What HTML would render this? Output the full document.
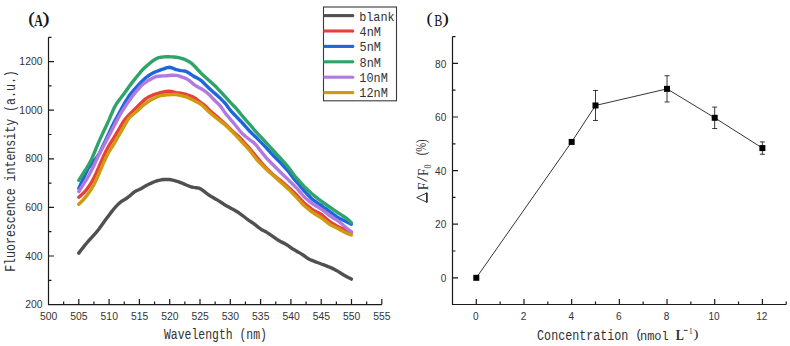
<!DOCTYPE html><html><head><meta charset="utf-8"><style>html,body{margin:0;padding:0;background:#fff;width:790px;height:346px;overflow:hidden}svg{display:block}</style></head><body>
<svg width="790" height="346" viewBox="0 0 790 346">
<rect width="790" height="346" fill="#fff"/>
<path d="M48.5,37.30V304.6H381.80M48.5,280.30h3M48.5,256.00h5.5M48.5,231.70h3M48.5,207.40h5.5M48.5,183.10h3M48.5,158.80h5.5M48.5,134.50h3M48.5,110.20h5.5M48.5,85.90h3M48.5,61.60h5.5M48.5,37.30h3M63.65,304.6v-3M78.80,304.6v-5.5M93.95,304.6v-3M109.10,304.6v-5.5M124.25,304.6v-3M139.40,304.6v-5.5M154.55,304.6v-3M169.70,304.6v-5.5M184.85,304.6v-3M200.00,304.6v-5.5M215.15,304.6v-3M230.30,304.6v-5.5M245.45,304.6v-3M260.60,304.6v-5.5M275.75,304.6v-3M290.90,304.6v-5.5M306.05,304.6v-3M321.20,304.6v-5.5M336.35,304.6v-3M351.50,304.6v-5.5M366.65,304.6v-3M381.80,304.6v-5.5" fill="none" stroke="#1a1a1a" stroke-width="1.2"/>
<text transform="translate(25.18,308.20) scale(0.9320,1)" font-family="Liberation Sans" font-weight="normal" font-size="11.143" fill="#333">200</text>
<text transform="translate(25.18,259.60) scale(0.9320,1)" font-family="Liberation Sans" font-weight="normal" font-size="11.143" fill="#333">400</text>
<text transform="translate(25.18,211.00) scale(0.9320,1)" font-family="Liberation Sans" font-weight="normal" font-size="11.143" fill="#333">600</text>
<text transform="translate(25.18,162.40) scale(0.9320,1)" font-family="Liberation Sans" font-weight="normal" font-size="11.143" fill="#333">800</text>
<text transform="translate(19.36,113.80) scale(0.9320,1)" font-family="Liberation Sans" font-weight="normal" font-size="11.143" fill="#333">1000</text>
<text transform="translate(19.36,65.20) scale(0.9320,1)" font-family="Liberation Sans" font-weight="normal" font-size="11.143" fill="#333">1200</text>
<text transform="translate(39.98,320.00) scale(0.9320,1)" font-family="Liberation Sans" font-weight="normal" font-size="11.143" fill="#333">500</text>
<text transform="translate(70.28,320.00) scale(0.9320,1)" font-family="Liberation Sans" font-weight="normal" font-size="11.143" fill="#333">505</text>
<text transform="translate(100.58,320.00) scale(0.9320,1)" font-family="Liberation Sans" font-weight="normal" font-size="11.143" fill="#333">510</text>
<text transform="translate(130.88,320.00) scale(0.9320,1)" font-family="Liberation Sans" font-weight="normal" font-size="11.143" fill="#333">515</text>
<text transform="translate(161.18,320.00) scale(0.9320,1)" font-family="Liberation Sans" font-weight="normal" font-size="11.143" fill="#333">520</text>
<text transform="translate(191.48,320.00) scale(0.9320,1)" font-family="Liberation Sans" font-weight="normal" font-size="11.143" fill="#333">525</text>
<text transform="translate(221.78,320.00) scale(0.9320,1)" font-family="Liberation Sans" font-weight="normal" font-size="11.143" fill="#333">530</text>
<text transform="translate(252.08,320.00) scale(0.9320,1)" font-family="Liberation Sans" font-weight="normal" font-size="11.143" fill="#333">535</text>
<text transform="translate(282.38,320.00) scale(0.9320,1)" font-family="Liberation Sans" font-weight="normal" font-size="11.143" fill="#333">540</text>
<text transform="translate(312.68,320.00) scale(0.9320,1)" font-family="Liberation Sans" font-weight="normal" font-size="11.143" fill="#333">545</text>
<text transform="translate(342.98,320.00) scale(0.9320,1)" font-family="Liberation Sans" font-weight="normal" font-size="11.143" fill="#333">550</text>
<text transform="translate(373.28,320.00) scale(0.9320,1)" font-family="Liberation Sans" font-weight="normal" font-size="11.143" fill="#333">555</text>
<path d="M452.5,36.60V304.5H786.22M452.5,277.80h5.5M452.5,251.00h3M452.5,224.20h5.5M452.5,197.40h3M452.5,170.60h5.5M452.5,143.80h3M452.5,117.00h5.5M452.5,90.20h3M452.5,63.40h5.5M452.5,36.60h3M476.30,304.5v-5.5M500.14,304.5v-3M523.98,304.5v-5.5M547.82,304.5v-3M571.66,304.5v-5.5M595.50,304.5v-3M619.34,304.5v-5.5M643.18,304.5v-3M667.02,304.5v-5.5M690.86,304.5v-3M714.70,304.5v-5.5M738.54,304.5v-3M762.38,304.5v-5.5M786.22,304.5v-3" fill="none" stroke="#1a1a1a" stroke-width="1.2"/>
<text transform="translate(440.76,282.00) scale(0.9040,1)" font-family="Liberation Sans" font-weight="normal" font-size="11.143" fill="#333">0</text>
<text transform="translate(435.12,228.40) scale(0.9040,1)" font-family="Liberation Sans" font-weight="normal" font-size="11.143" fill="#333">20</text>
<text transform="translate(435.12,174.80) scale(0.9040,1)" font-family="Liberation Sans" font-weight="normal" font-size="11.143" fill="#333">40</text>
<text transform="translate(435.12,121.20) scale(0.9040,1)" font-family="Liberation Sans" font-weight="normal" font-size="11.143" fill="#333">60</text>
<text transform="translate(435.12,67.60) scale(0.9040,1)" font-family="Liberation Sans" font-weight="normal" font-size="11.143" fill="#333">80</text>
<text transform="translate(473.08,320.10) scale(0.9040,1)" font-family="Liberation Sans" font-weight="normal" font-size="11.143" fill="#333">0</text>
<text transform="translate(520.76,320.10) scale(0.9040,1)" font-family="Liberation Sans" font-weight="normal" font-size="11.143" fill="#333">2</text>
<text transform="translate(568.54,320.10) scale(0.9040,1)" font-family="Liberation Sans" font-weight="normal" font-size="11.143" fill="#333">4</text>
<text transform="translate(616.02,320.10) scale(0.9040,1)" font-family="Liberation Sans" font-weight="normal" font-size="11.143" fill="#333">6</text>
<text transform="translate(663.80,320.10) scale(0.9040,1)" font-family="Liberation Sans" font-weight="normal" font-size="11.143" fill="#333">8</text>
<text transform="translate(708.46,320.10) scale(0.9040,1)" font-family="Liberation Sans" font-weight="normal" font-size="11.143" fill="#333">10</text>
<text transform="translate(756.24,320.10) scale(0.9040,1)" font-family="Liberation Sans" font-weight="normal" font-size="11.143" fill="#333">12</text>
<text transform="translate(164.00,338.60) scale(0.8038,1)" font-family="Liberation Mono" font-weight="normal" font-size="14.242" fill="#303030">Wavelength (nm)</text>
<text transform="rotate(-90) translate(-271.86,15.20) scale(0.7811,1)" font-family="Liberation Mono" font-weight="normal" font-size="14.848" fill="#303030">Fluorescence intensity (a.u.)</text>
<text transform="translate(537.10,339.80) scale(0.8222,1)" font-family="Liberation Mono" font-weight="normal" font-size="14.242" fill="#303030">Concentration</text>
<text transform="translate(635.13,338.35) scale(0.9281,1)" font-family="Liberation Mono" font-weight="normal" font-size="13.261" fill="#303030">(</text>
<text transform="translate(639.94,339.70) scale(0.9523,1)" font-family="Liberation Mono" font-weight="normal" font-size="12.639" fill="#303030">nmol</text>
<text transform="translate(675.76,339.70) scale(0.8922,1)" font-family="Liberation Serif" font-weight="bold" font-size="13.636" fill="#303030">L</text>
<path d="M683.8,330.4H687.6" stroke="#222" stroke-width="0.9"/>
<text transform="translate(689.02,333.60) scale(0.9167,1)" font-family="Liberation Serif" font-weight="normal" font-size="7.879" fill="#303030">1</text>
<text transform="translate(693.37,338.32) scale(1.2284,1)" font-family="Liberation Serif" font-weight="normal" font-size="12.889" fill="#303030">)</text>
<text transform="translate(28.48,24.09) scale(1.0919,1)" font-family="Liberation Serif" font-weight="normal" font-size="16.556" fill="#111" stroke="#111" stroke-width="0.4">(</text>
<text transform="translate(34.30,25.50) scale(0.7020,1)" font-family="Liberation Serif" font-weight="bold" font-size="16.818" fill="#111">A</text>
<text transform="translate(42.58,24.09) scale(1.2332,1)" font-family="Liberation Serif" font-weight="normal" font-size="16.556" fill="#111" stroke="#111" stroke-width="0.4">)</text>
<text transform="translate(426.45,24.09) scale(1.1384,1)" font-family="Liberation Serif" font-weight="normal" font-size="16.556" fill="#111">(</text>
<text transform="translate(434.26,25.50) scale(0.7648,1)" font-family="Liberation Serif" font-weight="normal" font-size="15.909" fill="#111">B</text>
<text transform="translate(441.73,24.09) scale(1.3087,1)" font-family="Liberation Serif" font-weight="normal" font-size="16.556" fill="#111">)</text>
<path d="M427,192.9L416.7,197.6L427,202.3Z" fill="none" stroke="#222" stroke-width="0.9" stroke-linejoin="miter"/>
<path d="M426.8,192.7V202.5" stroke="#222" stroke-width="1.3"/>
<text transform="rotate(-90) translate(-190.28,427.70) scale(0.9830,1)" font-family="Liberation Serif" font-weight="normal" font-size="14.242" fill="#333">F</text>
<text transform="rotate(-90) translate(-182.10,426.91) scale(1.4473,1)" font-family="Liberation Serif" font-weight="normal" font-size="14.559" fill="#333">/</text>
<text transform="rotate(-90) translate(-175.96,427.70) scale(0.8987,1)" font-family="Liberation Serif" font-weight="normal" font-size="14.242" fill="#333">F</text>
<text transform="rotate(-90) translate(-168.62,431.10) scale(0.7743,1)" font-family="Liberation Serif" font-weight="normal" font-size="10.455" fill="#303030">0</text>
<text transform="rotate(-90) translate(-155.33,426.07) scale(0.7250,1)" font-family="Liberation Serif" font-weight="normal" font-size="14.667" fill="#303030">(%)</text>
<path d="M78.8,253.1 L81.3,249.8 L83.8,246.6 L86.3,243.5 L88.8,240.6 L91.3,237.8 L93.8,235.1 L96.3,232.3 L98.8,229.2 L101.3,225.7 L103.8,222.2 L106.3,218.8 L108.8,215.4 L111.3,212.1 L113.8,209.0 L116.3,206.1 L118.8,203.6 L121.3,201.5 L123.8,200.0 L126.3,198.5 L128.8,196.7 L131.3,194.5 L133.8,192.4 L136.3,190.8 L138.8,189.7 L141.3,188.4 L143.8,187.0 L146.3,185.6 L148.8,184.3 L151.3,183.1 L153.8,182.0 L156.3,181.0 L158.8,180.3 L161.3,179.8 L163.8,179.5 L166.3,179.4 L168.8,179.5 L171.3,179.8 L173.8,180.4 L176.3,181.1 L178.8,181.8 L181.3,182.8 L183.8,183.9 L186.3,185.0 L188.8,186.0 L191.3,187.0 L193.8,187.4 L196.3,187.7 L198.8,188.1 L201.3,189.3 L203.8,191.2 L206.3,193.1 L208.8,195.0 L211.3,196.6 L213.8,198.0 L216.3,199.4 L218.8,200.9 L221.3,202.5 L223.8,204.2 L226.3,205.7 L228.8,207.1 L231.3,208.5 L233.8,209.8 L236.3,211.2 L238.8,212.8 L241.3,214.6 L243.8,216.5 L246.3,218.5 L248.8,220.4 L251.3,222.0 L253.8,223.7 L256.3,225.7 L258.8,227.7 L261.3,229.4 L263.8,230.8 L266.3,232.1 L268.8,233.6 L271.3,235.3 L273.8,237.1 L276.3,238.9 L278.8,240.5 L281.3,241.9 L283.8,243.1 L286.3,244.5 L288.8,246.2 L291.3,248.0 L293.8,249.6 L296.3,251.0 L298.8,252.4 L301.3,253.9 L303.8,255.5 L306.3,257.3 L308.8,259.0 L311.3,260.2 L313.8,261.1 L316.3,262.1 L318.8,263.0 L321.3,264.0 L323.8,264.9 L326.3,265.8 L328.8,266.8 L331.3,267.9 L333.8,269.1 L336.3,270.4 L338.8,271.9 L341.3,273.5 L343.8,275.0 L346.3,276.4 L348.8,277.8 L351.3,279.1" fill="none" stroke="#505050" stroke-width="3.4" stroke-linejoin="round" stroke-linecap="round"/>
<path d="M78.8,197.2 L81.3,195.1 L83.8,192.8 L86.3,190.0 L88.8,186.6 L91.3,182.7 L93.8,178.1 L96.3,172.9 L98.8,167.3 L101.3,161.5 L103.8,155.8 L106.3,150.5 L108.8,145.9 L111.3,141.8 L113.8,137.8 L116.3,133.7 L118.8,129.5 L121.3,125.2 L123.8,121.1 L126.3,117.9 L128.8,115.2 L131.3,112.6 L133.8,110.1 L136.3,107.7 L138.8,105.2 L141.3,102.8 L143.8,100.4 L146.3,98.4 L148.8,96.9 L151.3,95.7 L153.8,94.6 L156.3,93.8 L158.8,93.1 L161.3,92.5 L163.8,92.0 L166.3,91.5 L168.8,91.1 L171.3,91.5 L173.8,92.1 L176.3,92.7 L178.8,93.0 L181.3,93.3 L183.8,93.8 L186.3,94.5 L188.8,95.4 L191.3,96.3 L193.8,97.4 L196.3,99.0 L198.8,101.0 L201.3,102.9 L203.8,104.7 L206.3,106.9 L208.8,109.6 L211.3,111.9 L213.8,114.0 L216.3,116.1 L218.8,118.3 L221.3,120.5 L223.8,122.8 L226.3,125.0 L228.8,127.5 L231.3,129.9 L233.8,132.4 L236.3,134.5 L238.8,136.6 L241.3,139.1 L243.8,142.0 L246.3,144.8 L248.8,147.5 L251.3,150.5 L253.8,153.5 L256.3,156.5 L258.8,159.5 L261.3,162.5 L263.8,165.5 L266.3,168.3 L268.8,170.6 L271.3,172.9 L273.8,175.2 L276.3,177.3 L278.8,179.3 L281.3,181.2 L283.8,183.3 L286.3,185.5 L288.8,187.7 L291.3,189.9 L293.8,192.2 L296.3,194.7 L298.8,197.4 L301.3,200.1 L303.8,202.7 L306.3,204.8 L308.8,206.8 L311.3,208.9 L313.8,210.4 L316.3,211.7 L318.8,212.9 L321.3,214.4 L323.8,216.5 L326.3,218.7 L328.8,221.0 L331.3,222.7 L333.8,224.2 L336.3,225.7 L338.8,227.1 L341.3,228.2 L343.8,229.2 L346.3,230.3 L348.8,231.4 L351.3,232.6" fill="none" stroke="#e8403a" stroke-width="3.4" stroke-linejoin="round" stroke-linecap="round"/>
<path d="M78.8,188.4 L81.3,183.0 L83.8,177.6 L86.3,172.2 L88.8,167.3 L91.3,164.3 L93.8,161.1 L96.3,158.0 L98.8,154.5 L101.3,149.3 L103.8,144.1 L106.3,138.8 L108.8,133.4 L111.3,128.1 L113.8,123.1 L116.3,118.3 L118.8,113.7 L121.3,109.2 L123.8,104.7 L126.3,100.3 L128.8,96.4 L131.3,93.1 L133.8,90.2 L136.3,87.4 L138.8,84.6 L141.3,82.0 L143.8,79.6 L146.3,77.3 L148.8,75.5 L151.3,73.9 L153.8,72.6 L156.3,71.5 L158.8,70.6 L161.3,69.7 L163.8,68.8 L166.3,67.9 L168.8,67.3 L171.3,67.7 L173.8,68.6 L176.3,69.7 L178.8,70.2 L181.3,70.6 L183.8,70.9 L186.3,71.5 L188.8,72.9 L191.3,74.7 L193.8,76.4 L196.3,77.6 L198.8,78.9 L201.3,80.6 L203.8,83.0 L206.3,85.6 L208.8,88.0 L211.3,90.3 L213.8,92.5 L216.3,94.6 L218.8,96.9 L221.3,99.4 L223.8,101.9 L226.3,104.7 L228.8,108.2 L231.3,111.4 L233.8,114.0 L236.3,116.6 L238.8,119.2 L241.3,121.8 L243.8,124.5 L246.3,127.3 L248.8,130.2 L251.3,132.8 L253.8,135.2 L256.3,137.6 L258.8,140.1 L261.3,142.6 L263.8,145.1 L266.3,147.8 L268.8,150.6 L271.3,153.3 L273.8,156.0 L276.3,158.5 L278.8,161.0 L281.3,163.5 L283.8,166.3 L286.3,169.1 L288.8,171.9 L291.3,175.2 L293.8,178.7 L296.3,181.6 L298.8,184.4 L301.3,187.4 L303.8,190.5 L306.3,193.2 L308.8,195.7 L311.3,198.3 L313.8,200.3 L316.3,202.1 L318.8,203.8 L321.3,205.5 L323.8,207.3 L326.3,209.0 L328.8,210.8 L331.3,212.6 L333.8,214.5 L336.3,216.4 L338.8,218.1 L341.3,219.3 L343.8,220.5 L346.3,221.7 L348.8,222.9 L351.3,224.2" fill="none" stroke="#1d66dc" stroke-width="3.4" stroke-linejoin="round" stroke-linecap="round"/>
<path d="M78.8,180.3 L81.3,176.4 L83.8,172.5 L86.3,168.7 L88.8,164.6 L91.3,159.8 L93.8,154.0 L96.3,147.8 L98.8,141.9 L101.3,136.4 L103.8,131.1 L106.3,125.8 L108.8,120.4 L111.3,114.4 L113.8,108.6 L116.3,104.0 L118.8,100.5 L121.3,97.3 L123.8,93.9 L126.3,90.4 L128.8,86.9 L131.3,83.6 L133.8,80.4 L136.3,77.3 L138.8,74.2 L141.3,71.2 L143.8,68.5 L146.3,66.2 L148.8,64.0 L151.3,62.0 L153.8,60.2 L156.3,58.6 L158.8,57.7 L161.3,57.2 L163.8,56.9 L166.3,56.8 L168.8,56.8 L171.3,56.9 L173.8,57.0 L176.3,57.2 L178.8,57.6 L181.3,58.3 L183.8,59.0 L186.3,60.2 L188.8,61.5 L191.3,63.1 L193.8,65.4 L196.3,68.0 L198.8,70.8 L201.3,73.4 L203.8,75.8 L206.3,78.1 L208.8,80.3 L211.3,82.5 L213.8,84.7 L216.3,87.1 L218.8,89.8 L221.3,92.5 L223.8,95.2 L226.3,97.9 L228.8,100.6 L231.3,103.3 L233.8,106.0 L236.3,108.7 L238.8,111.6 L241.3,114.7 L243.8,117.7 L246.3,120.7 L248.8,123.4 L251.3,126.2 L253.8,129.3 L256.3,132.1 L258.8,134.8 L261.3,137.4 L263.8,140.1 L266.3,142.9 L268.8,145.6 L271.3,148.3 L273.8,151.0 L276.3,153.8 L278.8,156.5 L281.3,159.2 L283.8,162.0 L286.3,164.8 L288.8,167.8 L291.3,171.3 L293.8,174.8 L296.3,177.8 L298.8,180.4 L301.3,183.3 L303.8,186.2 L306.3,188.6 L308.8,190.9 L311.3,193.2 L313.8,195.3 L316.3,197.3 L318.8,199.3 L321.3,201.2 L323.8,203.0 L326.3,204.7 L328.8,206.5 L331.3,208.2 L333.8,209.9 L336.3,211.6 L338.8,213.3 L341.3,214.9 L343.8,216.5 L346.3,218.1 L348.8,220.2 L351.3,222.7" fill="none" stroke="#2ea46a" stroke-width="3.4" stroke-linejoin="round" stroke-linecap="round"/>
<path d="M78.8,191.5 L81.3,187.6 L83.8,183.7 L86.3,179.8 L88.8,175.5 L91.3,170.8 L93.8,165.7 L96.3,160.3 L98.8,154.9 L101.3,150.0 L103.8,145.5 L106.3,140.9 L108.8,136.1 L111.3,131.3 L113.8,126.4 L116.3,121.6 L118.8,117.0 L121.3,112.7 L123.8,108.7 L126.3,104.9 L128.8,101.3 L131.3,97.8 L133.8,94.3 L136.3,91.3 L138.8,88.5 L141.3,85.7 L143.8,83.5 L146.3,81.8 L148.8,80.3 L151.3,78.9 L153.8,77.6 L156.3,76.5 L158.8,76.2 L161.3,76.0 L163.8,75.9 L166.3,75.8 L168.8,75.5 L171.3,75.3 L173.8,75.2 L176.3,75.4 L178.8,75.9 L181.3,76.8 L183.8,77.7 L186.3,78.6 L188.8,80.1 L191.3,82.2 L193.8,84.4 L196.3,86.1 L198.8,87.5 L201.3,88.8 L203.8,90.4 L206.3,92.2 L208.8,94.3 L211.3,96.8 L213.8,99.5 L216.3,101.9 L218.8,104.3 L221.3,107.2 L223.8,110.9 L226.3,114.4 L228.8,117.3 L231.3,120.3 L233.8,123.2 L236.3,126.3 L238.8,129.5 L241.3,132.5 L243.8,134.9 L246.3,137.0 L248.8,139.0 L251.3,140.8 L253.8,142.7 L256.3,145.2 L258.8,148.6 L261.3,151.8 L263.8,154.9 L266.3,157.9 L268.8,160.5 L271.3,163.0 L273.8,165.5 L276.3,168.0 L278.8,170.5 L281.3,173.0 L283.8,175.5 L286.3,177.8 L288.8,180.2 L291.3,182.7 L293.8,185.3 L296.3,187.7 L298.8,190.4 L301.3,193.5 L303.8,196.5 L306.3,198.7 L308.8,200.8 L311.3,202.8 L313.8,204.5 L316.3,206.0 L318.8,207.5 L321.3,209.1 L323.8,211.0 L326.3,213.0 L328.8,215.0 L331.3,216.7 L333.8,218.2 L336.3,219.7 L338.8,221.4 L341.3,223.5 L343.8,225.7 L346.3,227.8 L348.8,229.8 L351.3,231.6" fill="none" stroke="#b07ae0" stroke-width="3.4" stroke-linejoin="round" stroke-linecap="round"/>
<path d="M78.8,204.3 L81.3,201.8 L83.8,199.2 L86.3,196.2 L88.8,192.8 L91.3,189.1 L93.8,184.8 L96.3,179.7 L98.8,174.0 L101.3,168.0 L103.8,162.2 L106.3,156.9 L108.8,152.2 L111.3,148.2 L113.8,144.2 L116.3,139.9 L118.8,135.5 L121.3,131.1 L123.8,126.7 L126.3,122.3 L128.8,118.4 L131.3,115.9 L133.8,113.8 L136.3,111.7 L138.8,109.4 L141.3,107.0 L143.8,104.8 L146.3,103.0 L148.8,101.2 L151.3,99.7 L153.8,98.5 L156.3,97.3 L158.8,96.2 L161.3,95.7 L163.8,95.2 L166.3,94.8 L168.8,94.8 L171.3,94.6 L173.8,94.4 L176.3,94.5 L178.8,95.1 L181.3,95.7 L183.8,96.3 L186.3,96.9 L188.8,97.9 L191.3,99.2 L193.8,100.5 L196.3,101.8 L198.8,103.1 L201.3,104.5 L203.8,106.7 L206.3,109.3 L208.8,111.7 L211.3,113.8 L213.8,115.8 L216.3,117.8 L218.8,119.8 L221.3,121.8 L223.8,123.8 L226.3,125.9 L228.8,128.3 L231.3,130.8 L233.8,133.3 L236.3,135.9 L238.8,138.5 L241.3,141.3 L243.8,144.0 L246.3,146.6 L248.8,149.4 L251.3,152.5 L253.8,155.7 L256.3,159.0 L258.8,161.8 L261.3,164.3 L263.8,166.8 L266.3,169.2 L268.8,171.5 L271.3,173.8 L273.8,176.0 L276.3,178.2 L278.8,180.5 L281.3,182.7 L283.8,184.9 L286.3,187.1 L288.8,189.4 L291.3,191.9 L293.8,194.5 L296.3,197.2 L298.8,199.9 L301.3,202.7 L303.8,205.3 L306.3,207.4 L308.8,209.4 L311.3,211.5 L313.8,213.2 L316.3,214.7 L318.8,216.2 L321.3,217.8 L323.8,219.7 L326.3,221.7 L328.8,223.7 L331.3,225.2 L333.8,226.5 L336.3,227.7 L338.8,229.0 L341.3,230.4 L343.8,231.7 L346.3,233.0 L348.8,234.1 L351.3,235.0" fill="none" stroke="#d09a10" stroke-width="3.4" stroke-linejoin="round" stroke-linecap="round"/>
<rect x="323.5" y="7" width="73" height="93.8" fill="none" stroke="#3a3a3a" stroke-width="1.1"/>
<path d="M323.5,15.60H352.8" stroke="#505050" stroke-width="3.1"/><circle cx="352.8" cy="15.60" r="1.55" fill="#505050"/>
<text transform="translate(359.15,20.70) scale(0.9378,1)" font-family="Liberation Mono" font-weight="normal" font-size="12.639" fill="#303030">blank</text>
<path d="M323.5,31.00H352.8" stroke="#e8403a" stroke-width="3.1"/><circle cx="352.8" cy="31.00" r="1.55" fill="#e8403a"/>
<text transform="translate(359.59,35.70) scale(0.9378,1)" font-family="Liberation Mono" font-size="12.639" fill="#333">4nM</text>
<path d="M323.5,46.40H352.8" stroke="#1d66dc" stroke-width="3.1"/><circle cx="352.8" cy="46.40" r="1.55" fill="#1d66dc"/>
<text transform="translate(359.59,51.10) scale(0.9378,1)" font-family="Liberation Mono" font-size="12.639" fill="#333">5nM</text>
<path d="M323.5,61.80H352.8" stroke="#2ea46a" stroke-width="3.1"/><circle cx="352.8" cy="61.80" r="1.55" fill="#2ea46a"/>
<text transform="translate(359.59,66.50) scale(0.9378,1)" font-family="Liberation Mono" font-size="12.639" fill="#333">8nM</text>
<path d="M323.5,77.20H352.8" stroke="#b07ae0" stroke-width="3.1"/><circle cx="352.8" cy="77.20" r="1.55" fill="#b07ae0"/>
<text transform="translate(359.35,81.90) scale(0.9378,1)" font-family="Liberation Mono" font-size="12.639" fill="#333">10nM</text>
<path d="M323.5,92.60H352.8" stroke="#d09a10" stroke-width="3.1"/><circle cx="352.8" cy="92.60" r="1.55" fill="#d09a10"/>
<text transform="translate(359.35,97.30) scale(0.9378,1)" font-family="Liberation Mono" font-size="12.639" fill="#333">12nM</text>
<path d="M476.30,277.80 L571.66,141.92 L595.50,105.48 L667.02,88.86 L714.70,117.80 L762.38,148.09" fill="none" stroke="#2a2a2a" stroke-width="0.95"/>
<rect x="473.30" y="274.80" width="6" height="6" fill="#000"/>
<rect x="568.66" y="138.92" width="6" height="6" fill="#000"/>
<path d="M595.50,90.47V120.48M593.00,90.47h5M593.00,120.48h5" stroke="#222" stroke-width="0.9" fill="none"/>
<rect x="592.50" y="102.48" width="6" height="6" fill="#000"/>
<path d="M667.02,75.73V101.99M664.52,75.73h5M664.52,101.99h5" stroke="#222" stroke-width="0.9" fill="none"/>
<rect x="664.02" y="85.86" width="6" height="6" fill="#000"/>
<path d="M714.70,107.08V128.52M712.20,107.08h5M712.20,128.52h5" stroke="#222" stroke-width="0.9" fill="none"/>
<rect x="711.70" y="114.80" width="6" height="6" fill="#000"/>
<path d="M762.38,141.92V154.25M759.88,141.92h5M759.88,154.25h5" stroke="#222" stroke-width="0.9" fill="none"/>
<rect x="759.38" y="145.09" width="6" height="6" fill="#000"/>
</svg></body></html>
